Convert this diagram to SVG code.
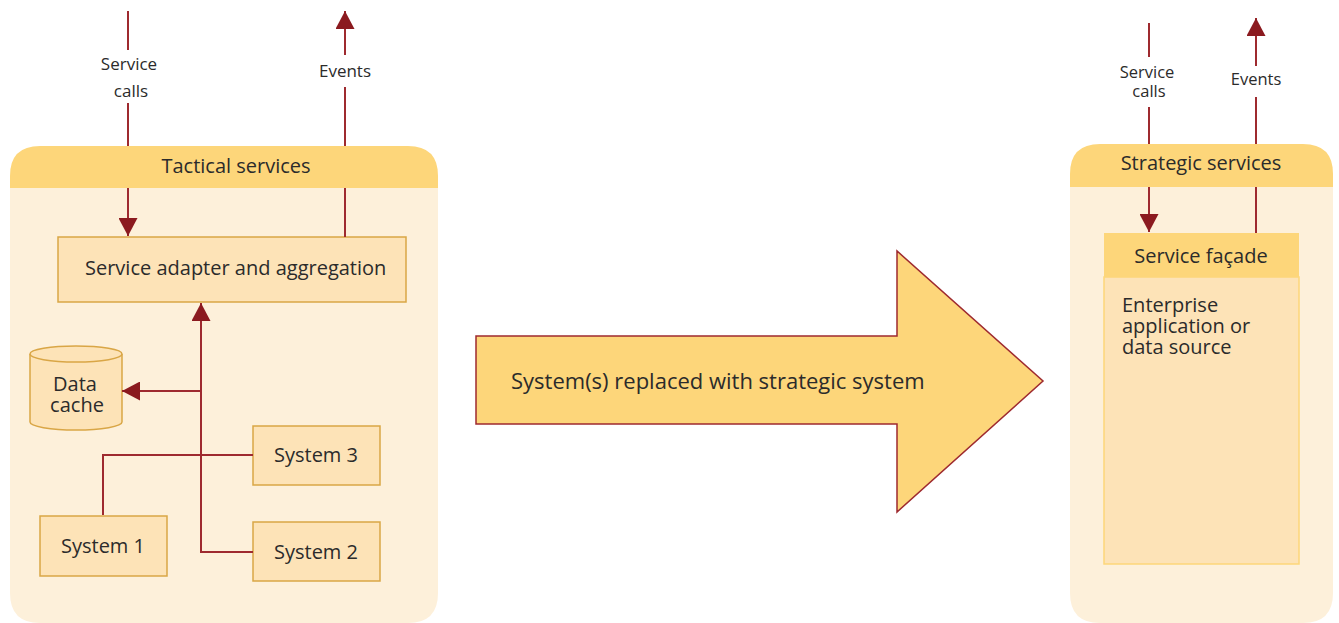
<svg xmlns="http://www.w3.org/2000/svg" width="1339" height="623" viewBox="0 0 1339 623">
  <defs>
    <marker id="tri-lg" viewBox="0 0 10 10" refX="10" refY="5" markerWidth="18" markerHeight="19" markerUnits="userSpaceOnUse" orient="auto" preserveAspectRatio="none">
      <path d="M0,0 L10,5 L0,10 Z" fill="#8B1A1F"/>
    </marker>
  </defs>
  <style>
    text { font-family: "Open Sans", "Noto Sans", "Liberation Sans", sans-serif; fill: #2b2b2b; }
    .lbl { font-size: 17px; }
    .lbl-sm { font-size: 16.5px; }
    .hdr { font-size: 20px; }
    .box-t { font-size: 20px; }
    .pane { fill: #FDF0DA; }
    .band { fill: #FDD67A; }
    .box { fill: #FDE3B7; stroke: #D9A646; stroke-width: 1.5; }
    .wire { fill: none; stroke: #9E2A2F; stroke-width: 2; }
    .wire-end { fill: none; stroke: #9E2A2F; stroke-width: 2; marker-end: url(#tri-lg); }
  </style>

  <!-- Tactical services container -->
  <g id="tactical-services">
    <path class="pane" d="M10,188 L438,188 L438,593 Q438,623 408,623 L40,623 Q10,623 10,593 Z"/>
    <path class="band" d="M10,188 L10,176 Q10,146 40,146 L408,146 Q438,146 438,176 L438,188 Z"/>
    <text class="hdr" x="236" y="173" text-anchor="middle">Tactical services</text>
  </g>

  <!-- Strategic services container -->
  <g id="strategic-services">
    <path class="pane" d="M1070,187 L1333,187 L1333,593 Q1333,623 1303,623 L1100,623 Q1070,623 1070,593 Z"/>
    <path class="band" d="M1070,187 L1070,174 Q1070,144 1100,144 L1303,144 Q1333,144 1333,174 L1333,187 Z"/>
    <text class="hdr" x="1201" y="170" text-anchor="middle">Strategic services</text>
  </g>

  <g id="service-adapter">
    <rect class="box" x="58" y="237" width="348" height="65"/>
    <text class="box-t" x="85" y="275">Service adapter and aggregation</text>
  </g>

  <g id="data-cache">
    <path d="M30,354 L30,422 A46,8 0 0 0 122,422 L122,354" fill="#FDE3B7" stroke="#D9A646" stroke-width="1.5"/>
    <ellipse cx="76" cy="354" rx="46" ry="8" fill="#FDE3B7" stroke="#D9A646" stroke-width="1.5"/>
    <text class="box-t" x="75" y="391" text-anchor="middle">Data</text>
    <text class="box-t" x="77" y="412" text-anchor="middle">cache</text>
  </g>

  <g id="system-3">
    <rect class="box" x="253" y="426" width="127" height="59"/>
    <text class="box-t" x="316" y="462" text-anchor="middle">System 3</text>
  </g>

  <g id="system-1">
    <rect class="box" x="40" y="516" width="127" height="60"/>
    <text class="box-t" x="103" y="553" text-anchor="middle">System 1</text>
  </g>

  <g id="system-2">
    <rect class="box" x="253" y="522" width="127" height="59"/>
    <text class="box-t" x="316" y="559" text-anchor="middle">System 2</text>
  </g>

  <g id="service-facade">
    <rect x="1104" y="277" width="195" height="287" fill="#FDE3B7" stroke="#FDD67A" stroke-width="1.5"/>
    <rect x="1104" y="233" width="195" height="44" fill="#FDD67A"/>
    <text class="box-t" x="1201" y="263" text-anchor="middle">Service façade</text>
    <text class="box-t" x="1122" y="312">Enterprise</text>
    <text class="box-t" x="1122" y="333">application or</text>
    <text class="box-t" x="1122" y="354">data source</text>
  </g>

  <g id="replacement-arrow">
    <path d="M476,336 L897,336 L897,251 L1043,381 L897,512 L897,424 L476,424 Z" fill="#FDD67A" stroke="#9E2A2F" stroke-width="1.5" stroke-linejoin="miter"/>
    <text x="511" y="389" style="font-size:22px">System(s) replaced with strategic system</text>
  </g>

  <!-- Connectors -->
  <g id="connectors">
    <!-- left: incoming service calls -->
    <line class="wire" x1="128" y1="11" x2="128" y2="50"/>
    <path class="wire-end" d="M128,103 L128,146 M128,188 L128,236"/>
    <text class="lbl" x="129" y="70" text-anchor="middle">Service</text>
    <text class="lbl" x="131" y="97" text-anchor="middle">calls</text>

    <!-- left: outgoing events -->
    <path class="wire" d="M345,237 L345,188 M345,146 L345,87"/>
    <path class="wire-end" d="M345,55 L345,11"/>
    <text class="lbl" x="345" y="77" text-anchor="middle">Events</text>

    <!-- systems up to the adapter -->
    <path class="wire-end" d="M253,552 L201,552 L201,303"/>
    <path class="wire" d="M103,515 L103,455 L253,455"/>
    <path class="wire-end" d="M201,391 L122,391"/>

    <!-- right: incoming service calls -->
    <line class="wire" x1="1149" y1="23" x2="1149" y2="57"/>
    <path class="wire-end" d="M1149,107 L1149,144 M1149,187 L1149,232"/>
    <text class="lbl-sm" x="1147" y="78" text-anchor="middle">Service</text>
    <text class="lbl-sm" x="1149" y="97" text-anchor="middle">calls</text>

    <!-- right: outgoing events -->
    <path class="wire" d="M1256,233 L1256,187 M1256,144 L1256,97"/>
    <path class="wire-end" d="M1256,66 L1256,18"/>
    <text class="lbl-sm" x="1256" y="85" text-anchor="middle">Events</text>
  </g>
</svg>
